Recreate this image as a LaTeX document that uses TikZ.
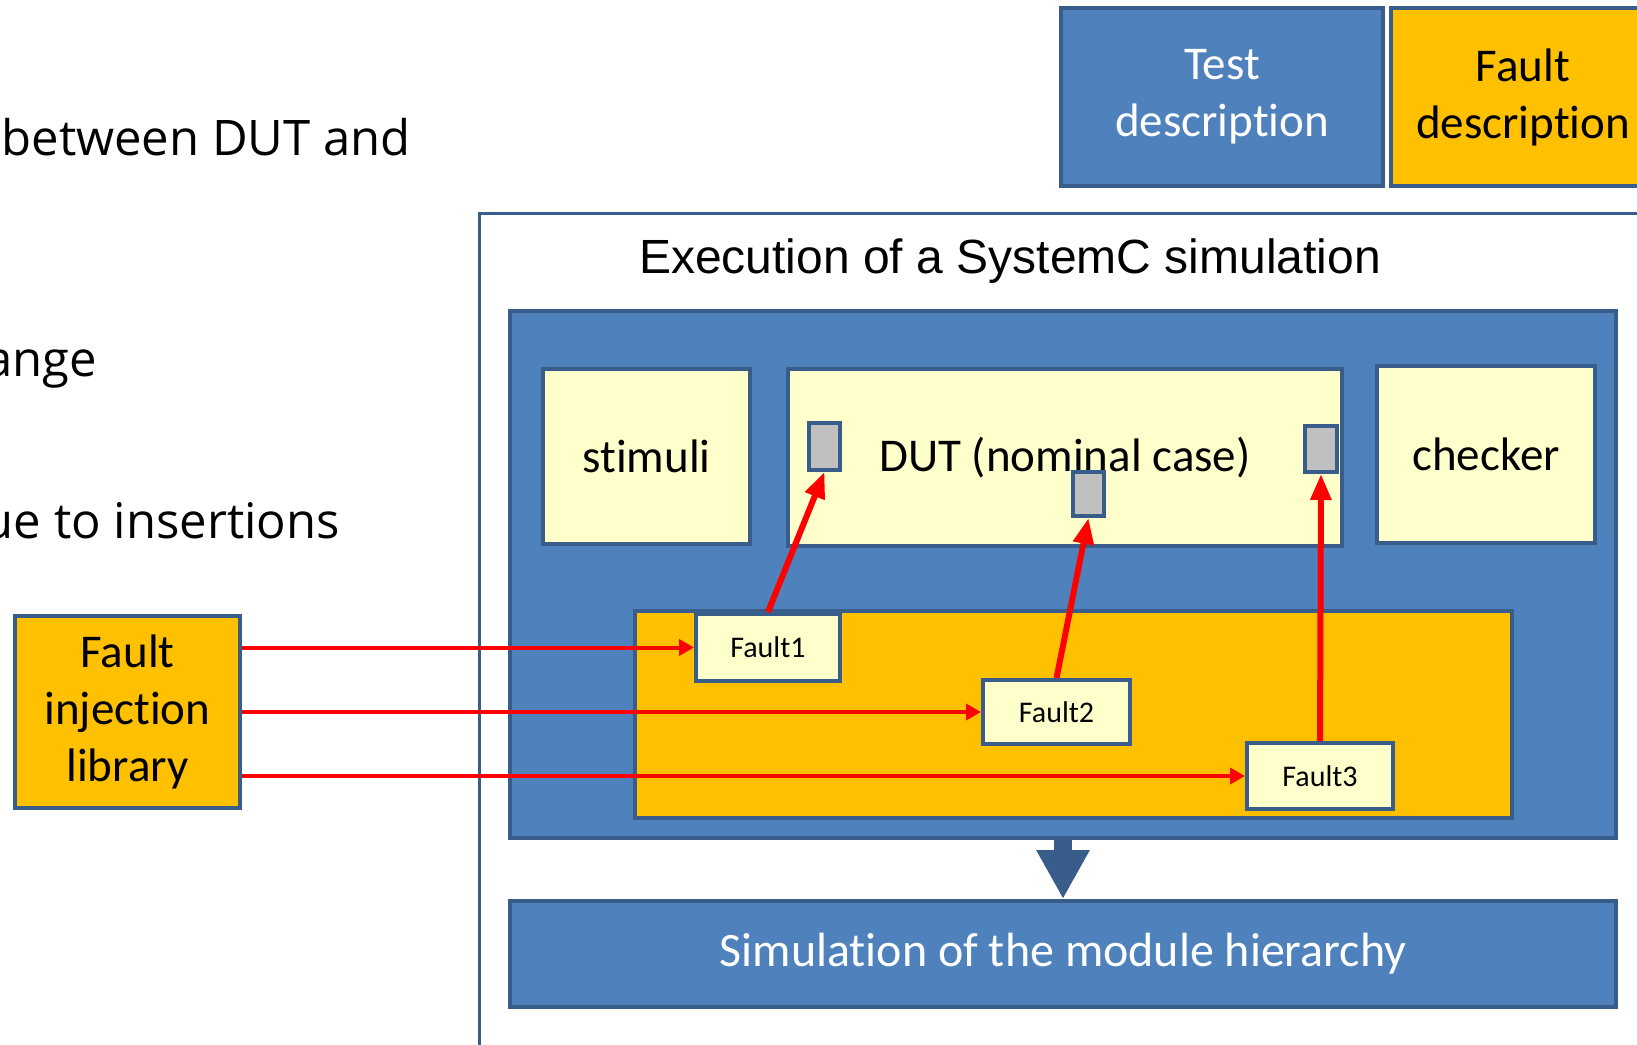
\documentclass[tikz,border=0pt]{standalone}
\usepackage{fontspec}
\setmainfont{Carlito}[Ligatures=NoCommon]
\newfontfamily\bodyfont{Open Sans}
\newfontfamily\titlefont{Liberation Sans}
\usetikzlibrary{arrows.meta}
\definecolor{boxblue}{HTML}{4F81BD}
\definecolor{edgeblue}{HTML}{385D8A}
\definecolor{amber}{HTML}{FFC000}
\definecolor{paleyellow}{HTML}{FFFFCC}
\definecolor{portgrey}{HTML}{C0C0C0}
\definecolor{wirered}{HTML}{FF0000}
\newcommand\boxtxt{\fontsize{47}{57}\selectfont}
\newcommand\faulttxt{\fontsize{30}{35}\selectfont}

\begin{document}
\begin{tikzpicture}[x=1pt,y=-1pt,
  box/.style={draw=edgeblue, line width=4pt, inner sep=0pt, align=center, font=\boxtxt},
  bluebox/.style={box, fill=boxblue, text=white},
  amberbox/.style={box, fill=amber, text=black},
  modbox/.style={box, fill=paleyellow, text=black},
  faultbox/.style={box, fill=paleyellow, font=\faulttxt},
  port/.style={draw=edgeblue, line width=4pt, fill=portgrey, inner sep=0pt},
  bodytext/.style={font=\bodyfont\fontsize{49}{59}\selectfont, inner sep=0pt, anchor=base east},
  inject/.style={draw=wirered, line width=4pt, -{Triangle[length=15pt,width=16pt]}},
  patch/.style={draw=wirered, line width=6pt, -{Triangle[length=26pt,width=20pt]}},
  flow/.style={draw=edgeblue, line width=18pt, -{Triangle[length=49pt,width=50pt]}}
]
\useasboundingbox (0,0) rectangle (1637,1044);
\clip (0,0) rectangle (1637,1044);

% bullet text on the left (partly outside the page)
\node[bodytext] (t1) at (411,155) {between DUT and};
\node[bodytext] (t2) at (97,376) {ange};
\node[bodytext] (t3) at (340,538) {ue to insertions};

% inputs of the simulation
\node[bluebox, minimum width=322, minimum height=178] (test) at (1222,97) {Test\\description};
\node[amberbox, minimum width=264, minimum height=178] (fdesc) at (1523,97) {Fault\\description};

% simulation frame
\draw[edgeblue, line width=3pt] (479,1100) -- (479,213) -- (1700,213);
\node[font=\titlefont\fontsize{48}{58}\selectfont, anchor=base, inner sep=0pt] (title) at (1010,273) {Execution of a SystemC simulation};

% flow into the module hierarchy
\coordinate (flowtop) at (1063,838);
\node[bluebox, minimum width=1106, minimum height=106, font=\fontsize{48}{58}\selectfont] (sim) at (1063,954) {Simulation of the module hierarchy};
\draw[flow] (flowtop) -- (sim.north);

% testbench
\node[bluebox, minimum width=1106, minimum height=527] (exec) at (1063,574.5) {};
\node[modbox, minimum width=207, minimum height=175] (stim) at (646.5,456.5) {stimuli};
\node[modbox, minimum width=554, minimum height=177] (dut) at (1065,457.5) {DUT (nominal case)};
\node[modbox, minimum width=218, minimum height=177] (chk) at (1486,454.5) {checker};

\node[port, minimum width=31, minimum height=47] (p1) at (824.5,446.5) {};
\node[port, minimum width=31, minimum height=44] (p2) at (1088.5,494) {};
\node[port, minimum width=32, minimum height=46] (p3) at (1321,449) {};

% fault container and faults
\node[amberbox, minimum width=877, minimum height=207] (fcont) at (1073.5,714.5) {};
\node[faultbox, minimum width=144, minimum height=67] (f1) at (768,647.5) {Fault1};
\node[faultbox, minimum width=147, minimum height=64] (f2) at (1056.5,712) {Fault2};
\node[faultbox, minimum width=146, minimum height=66] (f3) at (1320,776) {Fault3};

% fault injection library
\node[amberbox, minimum width=225, minimum height=192] (fil) at (127.5,712) {Fault\\injection\\library};

% injection wires
\draw[inject] (fil.east |- f1.west) -- (f1.west);
\draw[inject] (fil.east |- f2.west) -- (f2.west);
\draw[inject] (fil.east |- f3.west) -- (f3.west);

% fault sites in the DUT
\draw[patch] (f1.north) -- (p1.south);
\draw[patch] (f2.north) -- (p2.south);
\draw[patch] (f3.north) -- (p3.south);
\end{tikzpicture}
\end{document}
